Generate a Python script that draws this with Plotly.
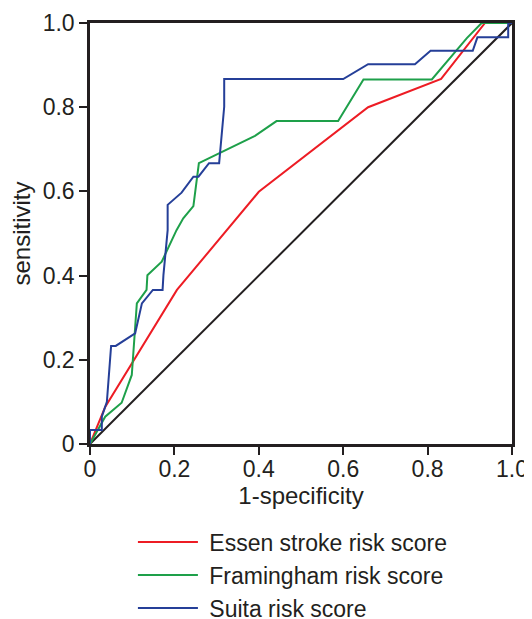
import plotly.graph_objects as go

essen_x = [0, 0.036, 0.206, 0.40, 0.659, 0.832, 0.936, 1.0]
essen_y = [0, 0.088, 0.366, 0.599, 0.80, 0.867, 1.0, 1.0]

fram_x = [0, 0.028, 0.036, 0.075, 0.099, 0.111, 0.134, 0.136, 0.170, 0.205, 0.221,
          0.245, 0.258, 0.391, 0.442, 0.588, 0.648, 0.810, 0.893, 0.928, 1.0]
fram_y = [0, 0.049, 0.065, 0.098, 0.164, 0.334, 0.366, 0.401, 0.433, 0.508, 0.536,
          0.565, 0.667, 0.732, 0.767, 0.767, 0.866, 0.866, 0.964, 1.0, 1.0]

suita_x = [0, 0, 0.028, 0.028, 0.040, 0.050, 0.061, 0.107, 0.123, 0.149, 0.172, 0.174,
           0.184, 0.184, 0.217, 0.245, 0.257, 0.282, 0.306, 0.318, 0.318, 0.600, 0.659,
           0.770, 0.807, 0.907, 0.918, 0.991, 0.991, 1.0]
suita_y = [0, 0.033, 0.033, 0.065, 0.100, 0.233, 0.233, 0.263, 0.334, 0.366, 0.366, 0.401,
           0.508, 0.568, 0.597, 0.635, 0.635, 0.667, 0.667, 0.801, 0.867, 0.867, 0.902,
           0.902, 0.934, 0.934, 0.966, 0.966, 1.0, 1.0]

ref_x = [0, 1]
ref_y = [0, 1]

tick_vals = [0, 0.2, 0.4, 0.6, 0.8, 1.0]
tick_text = ["0", "0.2", "0.4", "0.6", "0.8", "1.0"]

FONT = "Liberation Sans, Arial, sans-serif"
TXT = "#231f20"
FS = 23
FS_T = 24
FS_L = 23

fig = go.Figure()
fig.add_trace(go.Scatter(x=ref_x, y=ref_y, mode="lines", line=dict(color="#231f20", width=2),
                         showlegend=False, hoverinfo="skip"))
fig.add_trace(go.Scatter(x=essen_x, y=essen_y, mode="lines", name="\u00a0Essen stroke risk score",
                         line=dict(color="#ed1c24", width=2), legendgroup="a"))
fig.add_trace(go.Scatter(x=fram_x, y=fram_y, mode="lines", name="\u00a0Framingham risk score",
                         line=dict(color="#1ea04a", width=2), legendgroup="b"))
fig.add_trace(go.Scatter(x=suita_x, y=suita_y, mode="lines", name="\u00a0Suita risk score",
                         line=dict(color="#253f98", width=2), legendgroup="c"))

axis_common = dict(range=[0, 1], tickvals=tick_vals, ticktext=tick_text, automargin=False,
                   showgrid=False, zeroline=False, showline=True, linecolor="#231f20",
                   linewidth=2.5, mirror=True, ticks="outside", ticklen=8, tickwidth=2,
                   tickcolor="#231f20", tickfont=dict(family=FONT, size=FS, color=TXT))

fig.update_xaxes(**axis_common, ticklabelstandoff=-5,
                 title=dict(text="1-specificity", font=dict(family=FONT, size=FS_T, color=TXT), standoff=4))
fig.update_yaxes(**axis_common,
                 title=dict(text="sensitivity", font=dict(family=FONT, size=FS_T, color=TXT), standoff=11))

fig.update_layout(
    width=524, height=611,
    margin=dict(l=82, r=20, t=15, b=175),
    plot_bgcolor="white", paper_bgcolor="white",
    legend=dict(x=0.1017, y=0.161, xref="paper", yref="container",
                xanchor="left", yanchor="top", itemwidth=60,
                font=dict(family=FONT, size=FS_L, color=TXT), tracegroupgap=0,
                bgcolor="rgba(0,0,0,0)"),
)

fig.write_html("out.html")
